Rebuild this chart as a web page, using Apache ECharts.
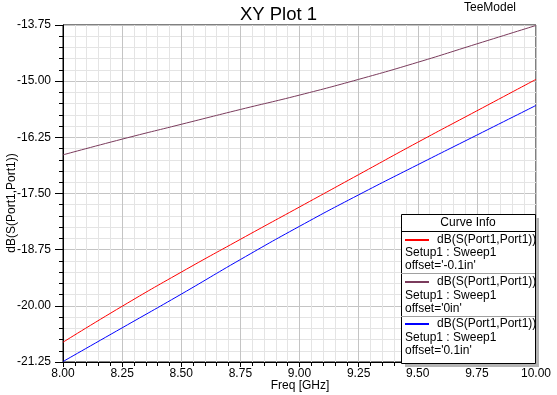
<!DOCTYPE html>
<html>
<head>
<meta charset="utf-8">
<script src="https://cdn.jsdelivr.net/npm/echarts@6/dist/echarts.min.js"></script>
<style>
html,body{margin:0;padding:0;background:#fff;}
#c{width:557px;height:395px;}
</style>
</head>
<body>
<div id="c"></div>
<script>
var freq = [8.00, 8.25, 8.50, 8.75, 9.00, 9.25, 9.50, 9.75, 10.00];
var sRed = [-20.81, -20.01, -19.25, -18.52, -17.80, -17.08, -16.36, -15.66, -14.96];
var sPurple = [-16.64, -16.29, -15.96, -15.63, -15.31, -14.96, -14.58, -14.17, -13.76];
var sBlue = [-21.24, -20.49, -19.74, -18.97, -18.23, -17.53, -16.86, -16.20, -15.54];
var seriesNames = ["dB(S(Port1,Port1))", "dB(S(Port1,Port1))", "dB(S(Port1,Port1))"];
var seriesSetup = ["Setup1 : Sweep1", "Setup1 : Sweep1", "Setup1 : Sweep1"];
var seriesOffset = ["offset='-0.1in'", "offset='0in'", "offset='0.1in'"];
var title = "XY Plot 1";
var designName = "TeeModel";
var xName = "Freq [GHz]";
var yName = "dB(S(Port1,Port1))";
var legendTitle = "Curve Info";

var FONT = 'Arial, "Liberation Sans", sans-serif';
var colors = ['#ff0000', '#7a3b5c', '#0000ff'];
var values = [sRed, sPurple, sBlue];

function pairs(arr){ return freq.map(function(f,i){ return [f, arr[i]]; }); }

var chart = echarts.init(document.getElementById('c'), null, {renderer:'canvas'});

var graphics = [];
graphics.push({type:'text', x: 300, y: 386, style:{text:xName, font:'12px '+FONT, fill:'#000', textAlign:'center', textVerticalAlign:'middle'}});
graphics.push({type:'text', x: 12, y: 203, rotation: Math.PI/2, style:{text:yName, font:'12px '+FONT, fill:'#000', textAlign:'center', textVerticalAlign:'middle'}});
graphics.push({type:'text', x: 490, y: 8, style:{text:designName, font:'12px '+FONT, fill:'#000', textAlign:'center', textVerticalAlign:'middle'}});
var bx = 401, by = 214, bw = 134, bh = 149;
graphics.push({type:'rect', shape:{x:bx+4, y:by+4, width:bw, height:bh}, style:{fill:'#b4b4b4'}, z:10});
graphics.push({type:'rect', shape:{x:bx+0.5, y:by+0.5, width:bw, height:bh}, style:{fill:'#fff', stroke:'#000', lineWidth:1}, z:11});
graphics.push({type:'text', x: bx+bw/2, y: 223, style:{text:legendTitle, font:'12px '+FONT, fill:'#000', textAlign:'center', textVerticalAlign:'middle'}, z:12});
graphics.push({type:'line', shape:{x1:bx, y1:231.5, x2:bx+bw, y2:231.5}, style:{stroke:'#000', lineWidth:1}, z:12});
for (var i = 0; i < 3; i++) {
  var ey = 231 + i*42.3;
  graphics.push({type:'line', shape:{x1:405, y1:Math.round(ey+8.5), x2:429, y2:Math.round(ey+8.5)}, style:{stroke:colors[i], lineWidth:2}, z:12});
  graphics.push({type:'text', x:437, y: ey+8.5, style:{text:seriesNames[i], font:'12px '+FONT, fill:'#000', textVerticalAlign:'middle'}, z:12});
  graphics.push({type:'text', x:405, y: ey+22, style:{text:seriesSetup[i], font:'12px '+FONT, fill:'#000', textVerticalAlign:'middle'}, z:12});
  graphics.push({type:'text', x:405, y: ey+35, style:{text:seriesOffset[i], font:'12px '+FONT, fill:'#000', textVerticalAlign:'middle'}, z:12});
  if (i < 2) graphics.push({type:'line', shape:{x1:bx, y1:Math.round(ey+42.3)+0.5, x2:bx+bw, y2:Math.round(ey+42.3)+0.5}, style:{stroke:'#a0a0a0', lineWidth:1}, z:12});
}

var option = {
  animation: false,
  backgroundColor: '#fff',
  title: {text: title, left: 'center', top: 0, textStyle:{fontFamily:FONT, fontSize:18.5, fontWeight:'normal', color:'#000'}},
  grid: {left: 63, right: 21, top: 25, bottom: 33, show: true, borderColor: '#000', borderWidth: 1, containLabel: false},
  xAxis: {
    type: 'value', min: 8, max: 10, interval: 0.25,
    axisLine: {show: true, onZero: false, lineStyle: {color: '#000', width: 1}},
    axisTick: {show: true, length: 5, lineStyle: {color: '#000'}},
    minorTick: {show: true, splitNumber: 5, length: 4, lineStyle: {color: '#000'}},
    splitLine: {show: true, lineStyle: {color: '#c4c4c4', width: 1}},
    minorSplitLine: {show: true, lineStyle: {color: '#e4e4e4', width: 1}},
    axisLabel: {margin: 6, fontFamily: FONT, fontSize: 12, color: '#000', formatter: function(v){ return v.toFixed(2); }, showMinLabel: true, showMaxLabel: true}
  },
  yAxis: {
    type: 'value', min: -21.25, max: -13.75, interval: 1.25,
    axisLine: {show: true, onZero: false, lineStyle: {color: '#000', width: 1}},
    axisTick: {show: true, length: 8, lineStyle: {color: '#000'}},
    minorTick: {show: true, splitNumber: 5, length: 4, lineStyle: {color: '#000'}},
    splitLine: {show: true, lineStyle: {color: '#c4c4c4', width: 1}},
    minorSplitLine: {show: true, lineStyle: {color: '#e4e4e4', width: 1}},
    axisLabel: {margin: 12, fontFamily: FONT, fontSize: 12, color: '#000', formatter: function(v){ return v.toFixed(2); }, showMinLabel: true, showMaxLabel: true}
  },
  series: values.map(function(v, i){
    return {type:'line', name: seriesOffset[i], data: pairs(v), showSymbol:false, symbol:'none',
      lineStyle:{color:colors[i], width:1}, itemStyle:{color:colors[i]}, clip:true, smooth:0.5};
  }),
  graphic: graphics
};
chart.setOption(option);
</script>
</body>
</html>
